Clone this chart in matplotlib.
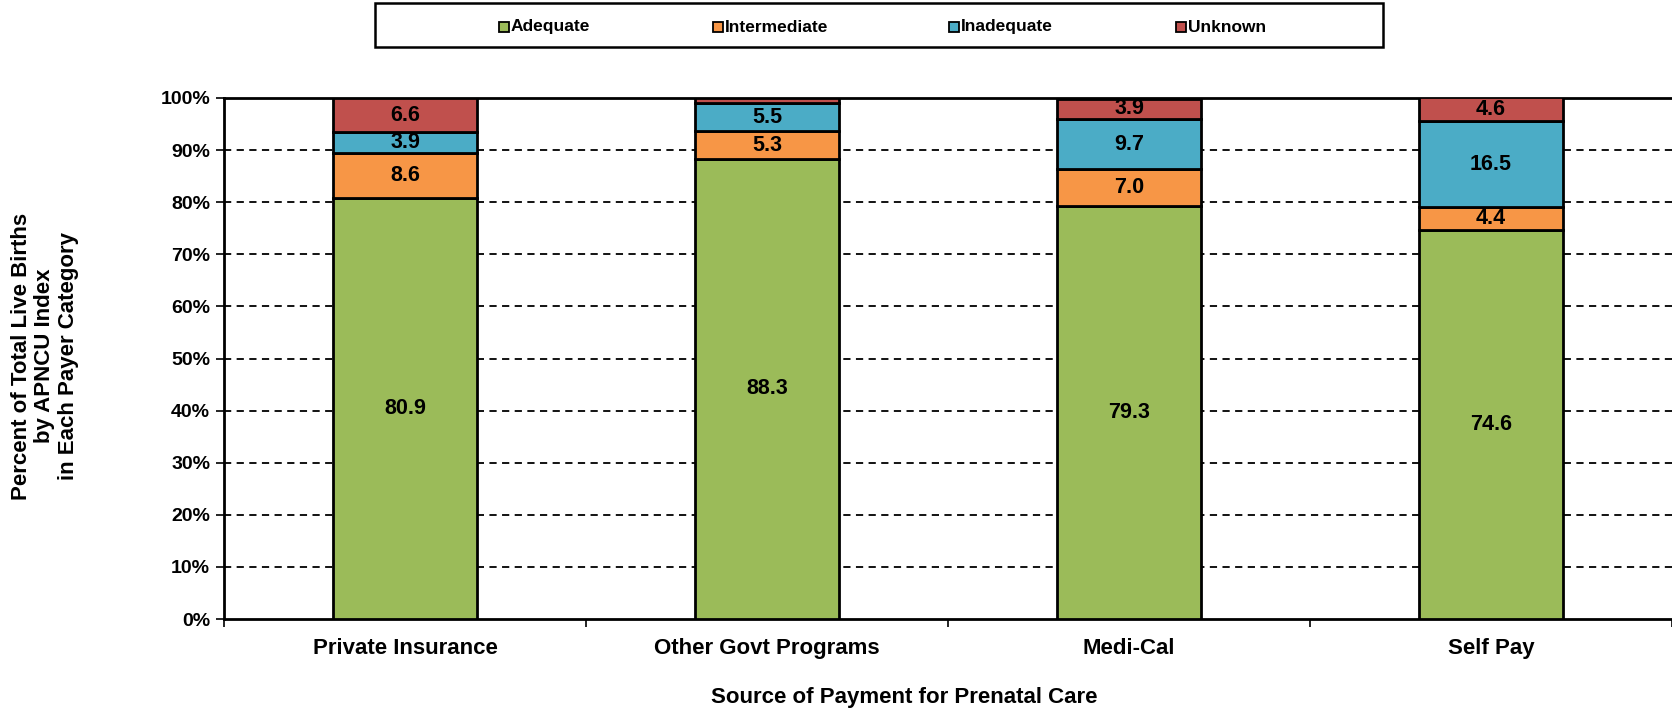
import matplotlib
matplotlib.use("Agg")
import matplotlib.pyplot as plt
from matplotlib.patches import Rectangle
import numpy as np

plt.rcParams['font.family'] = ['Liberation Sans', 'DejaVu Sans']
plt.rcParams['font.weight'] = 'bold'

categories = ["Private Insurance", "Other Govt Programs", "Medi-Cal", "Self Pay"]
series_names = ["Adequate", "Intermediate", "Inadequate", "Unknown"]
adequate = [80.9, 88.3, 79.3, 74.6]
intermediate = [8.6, 5.3, 7.0, 4.4]
inadequate = [3.9, 5.5, 9.7, 16.5]
unknown = [6.6, 0.9, 3.9, 4.6]
show_label_unknown = [True, False, True, True]
colors = ["#9BBB59", "#F79646", "#4BACC6", "#C0504D"]
ytick_labels = ["0%", "10%", "20%", "30%", "40%", "50%", "60%", "70%", "80%", "90%", "100%"]

W, H = 1672, 709
fig = plt.figure(figsize=(W/100, H/100), dpi=100)
ax = fig.add_axes([224/W, 1-619/H, (W-224)/W, (619-98)/H])

x = np.arange(len(categories))
data = [adequate, intermediate, inadequate, unknown]
bottom = np.zeros(len(categories))
for si, (vals, col, name) in enumerate(zip(data, colors, series_names)):
    vals = np.array(vals)
    ax.bar(x, vals, 0.4, bottom=bottom, color=col, edgecolor='black', linewidth=2, label=name, zorder=3)
    for i, v in enumerate(vals):
        if si == 3 and not show_label_unknown[i]:
            continue
        ax.text(x[i], bottom[i] + v/2, f"{v:.1f}", ha='center', va='center',
                fontsize=15.5, fontweight='bold', zorder=4)
    bottom = bottom + vals

ax.set_xlim(-0.5, 3.5)
ax.set_ylim(0, 100)
ax.set_yticks(np.arange(0, 101, 10))
ax.set_yticklabels(ytick_labels, fontsize=14, fontweight='bold')
ax.set_xticks(x)
ax.set_xticklabels(categories, fontsize=16, fontweight='bold')
ax.tick_params(axis='x', length=0, pad=14)
ax.set_xticks([-0.5, 0.5, 1.5, 2.5, 3.5], minor=True)
ax.tick_params(axis='x', which='minor', length=6, width=1.2, direction='out')
ax.tick_params(axis='y', length=6, width=1.2, direction='out', pad=4)

for yv in range(10, 100, 10):
    ax.axhline(yv, color='black', linestyle=(0, (4, 3)), linewidth=1.3, zorder=1)

for s in ['left', 'bottom', 'top']:
    ax.spines[s].set_linewidth(2)
    ax.spines[s].set_color('black')
ax.spines['right'].set_visible(False)

fig.text(904/W, 1-697/H, "Source of Payment for Prenatal Care", ha='center', va='center',
         fontsize=16, fontweight='bold')
fig.text(45/W, 1-356/H, "Percent of Total Live Births\nby APNCU Index\nin Each Payer Category",
         rotation=90, ha='center', va='center', fontsize=16, fontweight='bold', linespacing=1.15)

# Legend box drawn manually in figure pixel coordinates
fig.patches.append(Rectangle((375/W, 1-47/H), (1383-375)/W, 44/H, transform=fig.transFigure,
                             facecolor='white', edgecolor='black', linewidth=1.8))
leg_x = [499, 713, 949, 1176]
ly = 1-27/H
for name, col, lx in zip(series_names, colors, leg_x):
    fig.patches.append(Rectangle((lx/W, ly-5/H), 10/W, 10/H, transform=fig.transFigure,
                                 facecolor=col, edgecolor='black', linewidth=1.3))
    fig.text((lx+12)/W, ly, name, ha='left', va='center', fontsize=12.5, fontweight='bold')

fig.savefig("out.png", dpi=100)
